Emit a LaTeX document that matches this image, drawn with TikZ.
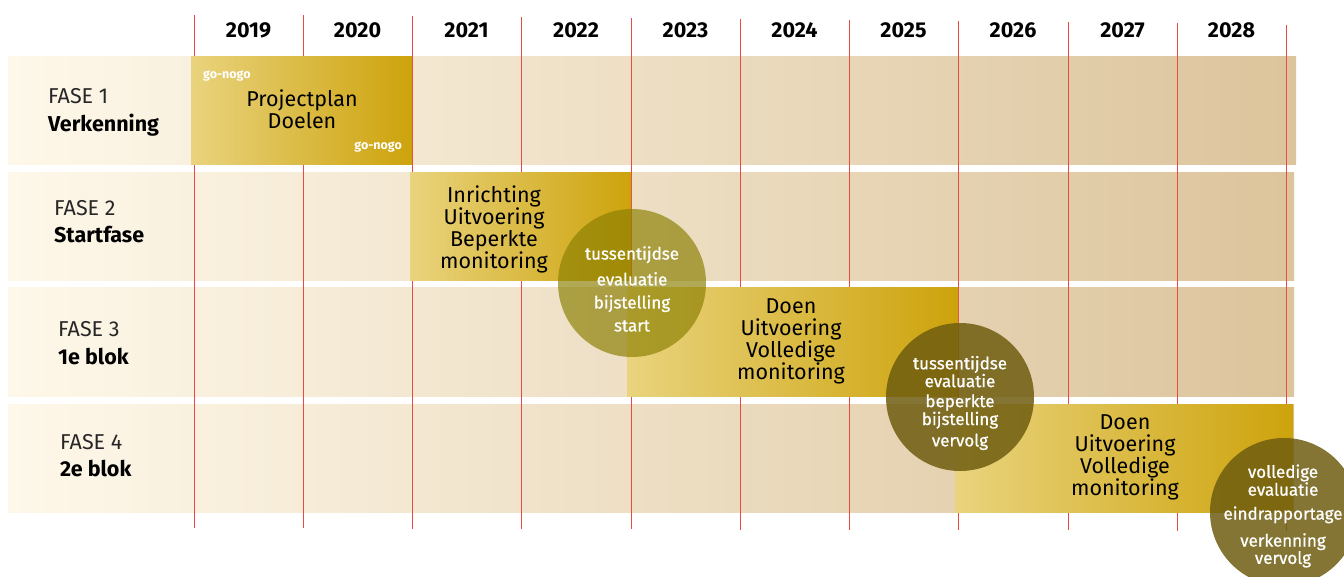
\documentclass[tikz,border=0pt]{standalone}
\usepackage{fontspec}
\setmainfont{Fira Sans}
\newfontfamily\reviewfont[FakeBold=0.8]{Fira Sans}
\definecolor{bandlight}{HTML}{FEF8EA}
\definecolor{banddark}{HTML}{DCC49C}
\definecolor{barlight}{HTML}{E9D37D}
\definecolor{bardark}{HTML}{CDA30C}
\definecolor{yearred}{HTML}{EA4A42}
\definecolor{reviewlight}{RGB}{139,127,2}
\definecolor{reviewdark}{RGB}{111,93,16}

\begin{document}
\begin{tikzpicture}%
	[	x={(1pt, 0pt)},
	y={(0pt, -1pt)},
	band/.style={left color=bandlight, right color=banddark},
	bar/.style={left color=barlight, right color=bardark},
	yearline/.style={color=yearred, line width=0.9pt},
	year/.style={anchor=base, inner sep=0pt, font=\fontsize{21.5}{24}\selectfont\bfseries},
	phase/.style={anchor=base west, inner sep=0pt, font=\fontsize{21.5}{24}\selectfont, text=black!85},
	phasename/.style={anchor=base west, inner sep=0pt, font=\fontsize{21.5}{24}\selectfont\bfseries},
	bartext/.style={align=center, inner sep=0pt, font=\fontsize{21.5}{22}\selectfont},
	gonogo/.style={inner sep=0pt, text=white, font=\fontsize{12.5}{14}\selectfont\bfseries},
	review/.style={circle, minimum size=148pt, inner sep=0pt, fill=reviewdark, fill opacity=0.85},
	firstreview/.style={review, fill=reviewlight, fill opacity=0.67},
	reviewtext/.style={align=center, inner sep=0pt, text=white, font=\reviewfont\fontsize{17}{15}\selectfont}]

\useasboundingbox (0,0) rectangle (1344,577);

\coordinate (t19) at (194, 15);
\coordinate (b19) at (194, 528);
\coordinate (t20) at (303, 15);
\coordinate (b20) at (303, 528);
\coordinate (t21) at (412, 16);
\coordinate (b21) at (412, 529);
\coordinate (t22) at (521, 17);
\coordinate (b22) at (521, 529);
\coordinate (t23) at (631, 18);
\coordinate (b23) at (631, 529);
\coordinate (t24) at (740, 19);
\coordinate (b24) at (740, 530);
\coordinate (t25) at (849, 20);
\coordinate (b25) at (849, 530);
\coordinate (t26) at (958, 21);
\coordinate (b26) at (958, 530);
\coordinate (t27) at (1068, 22);
\coordinate (b27) at (1068, 530);
\coordinate (t28) at (1177, 23);
\coordinate (b28) at (1177, 531);
\coordinate (t29) at (1286, 25);
\coordinate (b29) at (1286, 531);

\fill[band] (8, 57) rectangle (1296, 165);
\fill[band] (8, 173) rectangle (1294, 281);
\fill[band] (8, 288) rectangle (1294, 396);
\fill[band] (8, 404) rectangle (1294, 512);

\draw[yearline] (t19) -- (b19);
\draw[yearline] (t20) -- (b20);
\draw[yearline] (t21) -- (b21);
\draw[yearline] (t22) -- (b22);
\draw[yearline] (t23) -- (b23);
\draw[yearline] (t24) -- (b24);
\draw[yearline] (t25) -- (b25);
\draw[yearline] (t26) -- (b26);
\draw[yearline] (t27) -- (b27);
\draw[yearline] (t28) -- (b28);
\draw[yearline] (t29) -- (b29);

\fill[bar] (191, 57) rectangle (412, 165);
\fill[bar] (410, 173) rectangle (631, 281);
\fill[bar] (627, 288) rectangle (958, 396);
\fill[bar] (955, 404) rectangle (1293, 512);

\node[year] (y2019) at (248.5, 38) {2019};
\node[year] (y2020) at (357.5, 38) {2020};
\node[year] (y2021) at (466.5, 38) {2021};
\node[year] (y2022) at (576, 38) {2022};
\node[year] (y2023) at (685.5, 38) {2023};
\node[year] (y2024) at (794.5, 38) {2024};
\node[year] (y2025) at (903.5, 38) {2025};
\node[year] (y2026) at (1013, 38) {2026};
\node[year] (y2027) at (1122.5, 38) {2027};
\node[year] (y2028) at (1231.5, 38) {2028};

\node[phase] (fase1) at (48, 104) {FASE 1};
\node[phasename] (verkenning) at (48, 132) {Verkenning};
\node[phase] (fase2) at (54, 216) {FASE 2};
\node[phasename] (startfase) at (54, 243) {Startfase};
\node[phase] (fase3) at (58, 337) {FASE 3};
\node[phasename] (blok1) at (58, 364) {1e blok};
\node[phase] (fase4) at (60, 449) {FASE 4};
\node[phasename] (blok2) at (60, 476) {2e blok};

\node[gonogo, anchor=base west] (gonogo1) at (203, 79) {go-nogo};
\node[gonogo, anchor=base east] (gonogo2) at (402, 150) {go-nogo};

\node[bartext] (projectplan) at (302, 109) {Projectplan\\Doelen};
\node[bartext] (inrichting) at (494, 229) {Inrichting\\Uitvoering\\Beperkte\\monitoring};
\node[bartext] (doen1) at (791, 341) {Doen\\Uitvoering\\Volledige\\monitoring};
\node[bartext] (doen2) at (1125, 457) {Doen\\Uitvoering\\Volledige\\monitoring};

\node[firstreview] (review1) at (632, 283) {};
\node[review] (review2) at (960, 397) {};
\node[review] (review3) at (1284, 512) {};

\node[reviewtext] (review1txt) at (632, 289) {tussentijdse\\[8pt]evaluatie\\[8pt]bijstelling\\[8pt]start};
\node[reviewtext] (review2txt) at (960, 403) {tussentijdse\\evaluatie\\[5pt]beperkte\\bijstelling\\[4pt]vervolg};
\node[reviewtext] (review3txt) at (1283, 516) {volledige\\evaluatie\\[9pt]eindrapportage\\[9pt]verkenning\\vervolg};
\end{tikzpicture}
\end{document}
